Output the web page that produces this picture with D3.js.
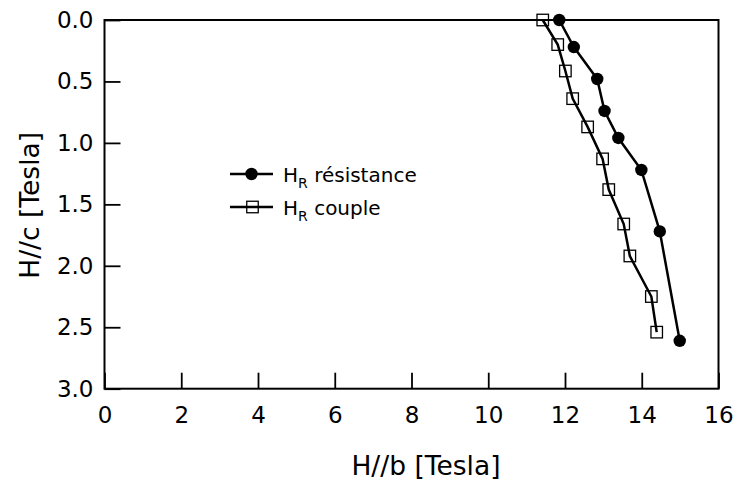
<!DOCTYPE html>
<html>
<head>
<meta charset="utf-8">
<script src="https://cdn.jsdelivr.net/npm/d3@7"></script>
<style>
  html, body { margin: 0; padding: 0; background: #fff; }
  svg { display: block; font-family: "DejaVu Sans", sans-serif; }
</style>
</head>
<body>
<svg id="chart" width="737" height="482"></svg>
<script>
// Field values (Tesla): H//b on the horizontal axis, H//c on the vertical axis
const resistanceB = [11.85, 12.23, 12.84, 13.03, 13.39, 13.99, 14.47, 14.99];
const resistanceC = [0.00, 0.22, 0.48, 0.74, 0.96, 1.22, 1.72, 2.61];
const coupleB = [11.42, 11.81, 12.01, 12.20, 12.59, 12.98, 13.14, 13.53, 13.69, 14.25, 14.39];
const coupleC = [0.00, 0.20, 0.415, 0.64, 0.87, 1.13, 1.38, 1.66, 1.92, 2.25, 2.54];

const xTicks = [0, 2, 4, 6, 8, 10, 12, 14, 16];
const yTicks = [0.0, 0.5, 1.0, 1.5, 2.0, 2.5, 3.0];
const xTitle = "H//b [Tesla]";
const yTitle = "H//c [Tesla]";
const legendLabels = ["résistance", "couple"];

const svg = d3.select("#chart");
const plot = { left: 104.5, right: 718.5, top: 20, bottom: 388.7 };

const x = d3.scaleLinear().domain([0, 16]).range([plot.left, plot.right]);
const y = d3.scaleLinear().domain([0, 3]).range([plot.top, plot.bottom]);

// Axes with inward ticks
const xAxis = d3.axisBottom(x).tickValues(xTicks).tickFormat(d3.format("d"))
  .tickSizeInner(-16).tickSizeOuter(0).tickPadding(18);
const yAxis = d3.axisLeft(y).tickValues(yTicks).tickFormat(d3.format(".1f"))
  .tickSizeInner(-16).tickSizeOuter(0).tickPadding(11);

const gx = svg.append("g").attr("transform", `translate(0,${plot.bottom})`).call(xAxis);
const gy = svg.append("g").attr("transform", `translate(${plot.left},0)`).call(yAxis);
[gx, gy].forEach(g => {
  g.select(".domain").remove();
  g.selectAll(".tick line").attr("stroke", "#000").attr("stroke-width", 1.8);
  g.selectAll(".tick text").attr("fill", "#000").style("font-size", "23px")
    .style("font-family", "DejaVu Sans, sans-serif");
});

// Frame
svg.append("rect")
  .attr("x", plot.left).attr("y", plot.top)
  .attr("width", plot.right - plot.left).attr("height", plot.bottom - plot.top)
  .attr("fill", "none").attr("stroke", "#000").attr("stroke-width", 2);

// Axis titles
svg.append("text")
  .attr("x", 426).attr("y", 475)
  .attr("text-anchor", "middle")
  .style("font-size", "26.5px")
  .text(xTitle);

svg.append("text")
  .attr("transform", `translate(39,${(plot.top + plot.bottom) / 2 + 1}) rotate(-90)`)
  .attr("text-anchor", "middle")
  .style("font-size", "26.5px")
  .text(yTitle);

// Series
const line = d3.line().x(d => x(d[0])).y(d => y(d[1]));
const resistance = resistanceB.map((b, i) => [b, resistanceC[i]]);
const couple = coupleB.map((b, i) => [b, coupleC[i]]);

svg.append("path").datum(resistance).attr("d", line)
  .attr("fill", "none").attr("stroke", "#000").attr("stroke-width", 2.5);
svg.append("path").datum(couple).attr("d", line)
  .attr("fill", "none").attr("stroke", "#000").attr("stroke-width", 2.5);

svg.append("g").selectAll("circle").data(resistance).join("circle")
  .attr("cx", d => x(d[0])).attr("cy", d => y(d[1])).attr("r", 6.2)
  .attr("fill", "#000");

const sq = 11.5;
svg.append("g").selectAll("rect").data(couple).join("rect")
  .attr("x", d => x(d[0]) - sq / 2).attr("y", d => y(d[1]) - sq / 2)
  .attr("width", sq).attr("height", sq)
  .attr("fill", "none").attr("stroke", "#000").attr("stroke-width", 1.3);

// Legend
const legendRows = [174, 207];
const lg = svg.append("g");
legendRows.forEach((ly, i) => {
  lg.append("line").attr("x1", 230).attr("x2", 273).attr("y1", ly).attr("y2", ly)
    .attr("stroke", "#000").attr("stroke-width", 2.5);
  if (i === 0) {
    lg.append("circle").attr("cx", 251.5).attr("cy", ly).attr("r", 6.2).attr("fill", "#000");
  } else {
    lg.append("rect").attr("x", 252.5 - sq / 2).attr("y", ly - sq / 2)
      .attr("width", sq).attr("height", sq)
      .attr("fill", "none").attr("stroke", "#000").attr("stroke-width", 1.3);
  }
  const t = lg.append("text").attr("x", 283).attr("y", ly + 7.5).style("font-size", "20px");
  t.append("tspan").text("H");
  t.append("tspan").attr("dy", 6).style("font-size", "14px").text("R");
  t.append("tspan").attr("dy", -6).text(" " + legendLabels[i]);
});
</script>
</body>
</html>
